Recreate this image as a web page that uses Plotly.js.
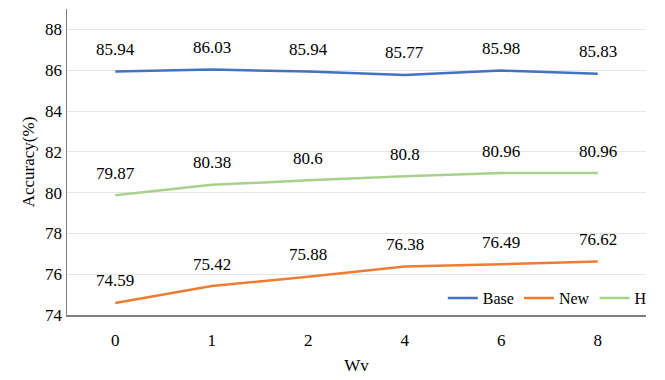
<!DOCTYPE html>
<html>
<head>
<meta charset="utf-8">
<script src="https://cdn.plot.ly/plotly-3.0.1.min.js"></script>
<style>
  html, body { margin: 0; padding: 0; background: #fff; }
  #chart { width: 665px; height: 380px; }
</style>
</head>
<body>
<div id="chart"></div>
<script>
const categories = ["0", "1", "2", "4", "6", "8"];
const baseVals = [85.94, 86.03, 85.94, 85.77, 85.98, 85.83];
const newVals = [74.59, 75.42, 75.88, 76.38, 76.49, 76.62];
const hVals = [79.87, 80.38, 80.6, 80.8, 80.96, 80.96];
const yTicks = [74, 76, 78, 80, 82, 84, 86, 88];

const FONT = "Times New Roman, Liberation Serif, serif";

const series = [
  { name: "Base", y: baseVals, color: "#4472C4" },
  { name: "New", y: newVals, color: "#ED7D31" },
  { name: "H", y: hVals, color: "#A9D18E" },
];

let data = series.map(s => ({
  type: "scatter",
  mode: "lines",
  name: s.name,
  x: categories,
  y: s.y,
  line: { color: s.color, width: 2.5 },
  hoverinfo: "none",
}));

// value labels above each point (x given as category index)
let annotations = [];
series.forEach(s => {
  s.y.forEach((v, i) => {
    annotations.push({
      x: i,
      y: v,
      text: String(v),
      showarrow: false,
      yshift: 22,
      font: { family: FONT, size: 17, color: "#000" },
    });
  });
});

const tickFont = { family: FONT, size: 17, color: "#000" };

let layout = {
  width: 665,
  height: 380,
  margin: { l: 67, r: 19, t: 9, b: 65 },
  paper_bgcolor: "#fff",
  plot_bgcolor: "#fff",
  font: { family: FONT, size: 17, color: "#000" },
  showlegend: true,
  legend: {
    orientation: "h",
    x: 1.01,
    xanchor: "right",
    y: 0.0,
    yanchor: "bottom",
    font: { family: FONT, size: 16, color: "#000" },
    bgcolor: "rgba(0,0,0,0)",
  },
  xaxis: {
    type: "category",
    range: [-0.5, 5.5],
    showline: true,
    linecolor: "#7f7f7f",
    linewidth: 1.5,
    showgrid: false,
    zeroline: false,
    ticks: "outside",
    ticklen: 9,
    tickcolor: "rgba(0,0,0,0)",
    tickfont: tickFont,
    title: { text: "Wv", font: { family: FONT, size: 17 }, standoff: 10 },
  },
  yaxis: {
    range: [74, 89],
    tickvals: yTicks,
    showline: true,
    linecolor: "#7f7f7f",
    linewidth: 1.5,
    showgrid: true,
    gridcolor: "#e6e6e6",
    zeroline: false,
    ticks: "",
    ticksuffix: "   ",
    tickfont: tickFont,
    title: { text: "Accuracy(%)", font: { family: FONT, size: 17 }, standoff: 6 },
  },
  annotations: annotations,
};

Plotly.newPlot("chart", data, layout, { displayModeBar: false, staticPlot: true });
</script>
</body>
</html>
